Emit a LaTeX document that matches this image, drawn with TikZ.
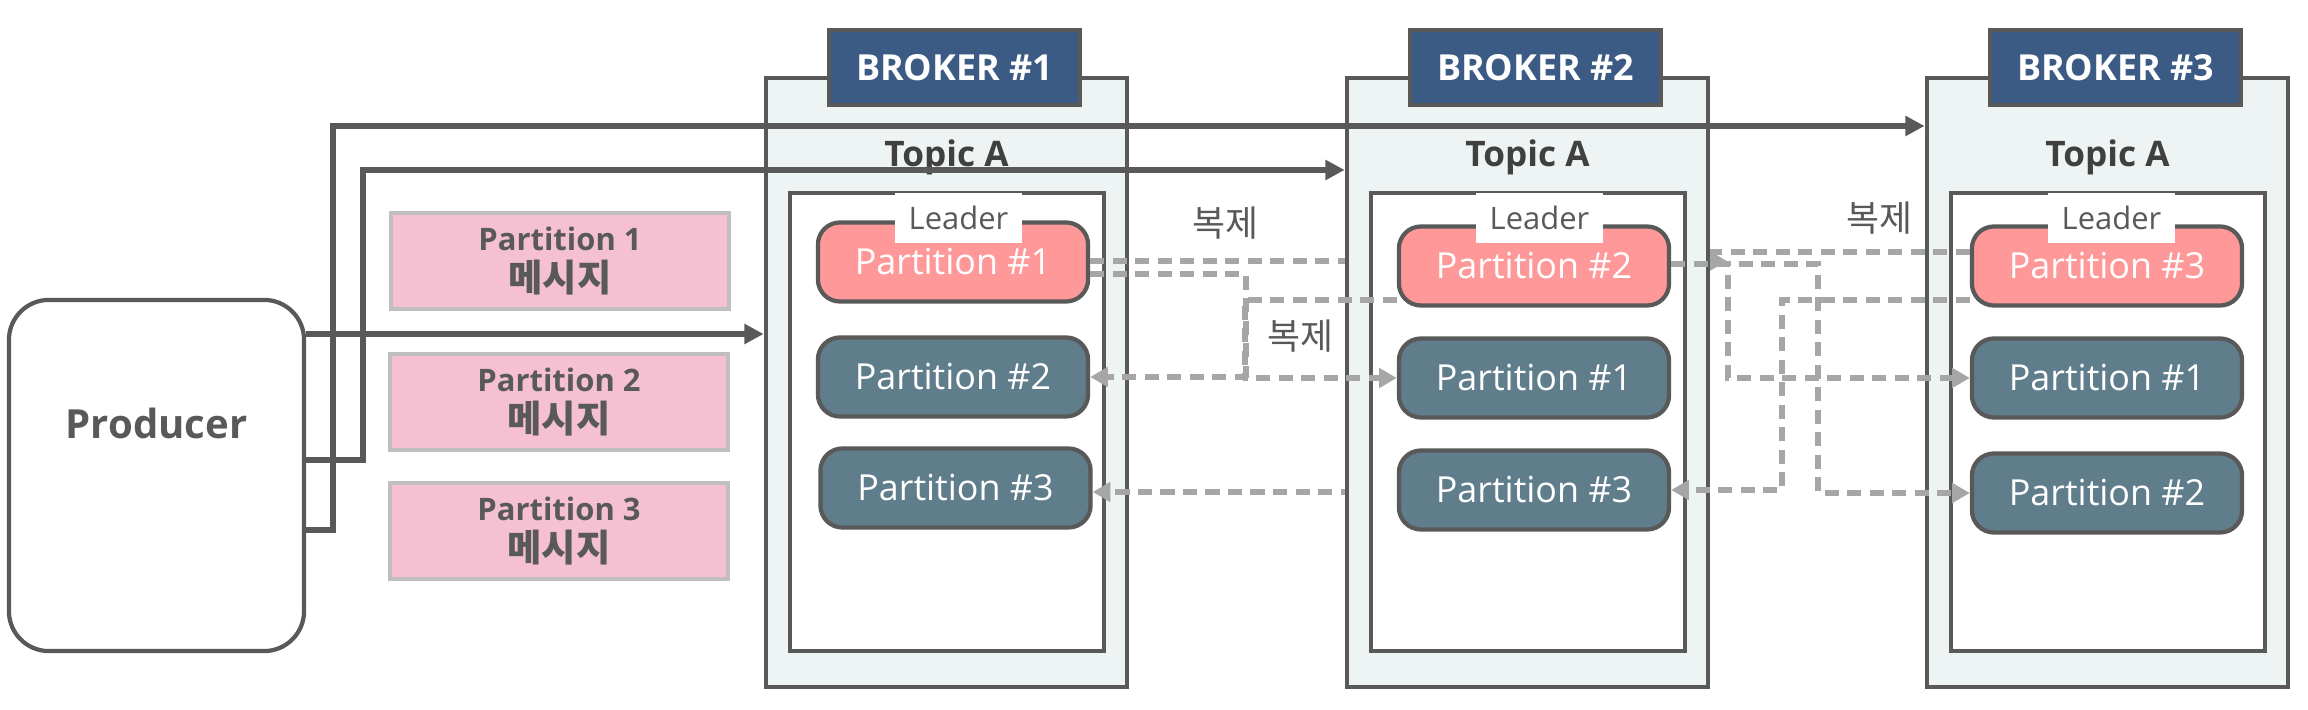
\documentclass[tikz,border=0pt]{standalone}
\usepackage{fontspec}
\setmainfont{Open Sans}
\newfontfamily\krfont{Noto Sans CJK KR}
\usetikzlibrary{arrows.meta}

\definecolor{linegray}{HTML}{595959}
\definecolor{dashgray}{HTML}{A6A6A6}
\definecolor{brokerblue}{HTML}{3B5B84}
\definecolor{framefill}{HTML}{EEF3F3}
\definecolor{leaderred}{HTML}{FF9999}
\definecolor{followerteal}{HTML}{5F7D8B}
\definecolor{msgpink}{HTML}{F5C0D1}
\definecolor{msgborder}{HTML}{BFBFBF}
\definecolor{topicgray}{HTML}{404040}

\tikzset{
  outerbox/.style={draw=linegray, line width=1.3pt, fill=framefill, minimum width=3.61cm, minimum height=6.09cm, inner sep=0pt},
  brokerlabel/.style={draw=linegray, line width=1.3pt, fill=brokerblue, text=white, font=\fontsize{10.2pt}{12pt}\selectfont\bfseries, minimum width=2.51cm, minimum height=0.75cm, inner sep=0pt},
  topictext/.style={text=topicgray, font=\fontsize{10pt}{12pt}\selectfont\bfseries, inner sep=0pt, anchor=base},
  innerbox/.style={draw=linegray, line width=1.1pt, fill=white, minimum width=3.14cm, minimum height=4.58cm, inner sep=0pt},
  part/.style={draw=linegray, line width=1.2pt, rounded corners=0.22cm, minimum width=2.7cm, minimum height=0.79cm, text=white, font=\fontsize{10.2pt}{12pt}\selectfont, inner sep=0pt},
  leaderpart/.style={part, fill=leaderred},
  followerpart/.style={part, fill=followerteal},
  leadertag/.style={fill=white, text=linegray, font=\fontsize{8.8pt}{10pt}\selectfont, minimum width=1.27cm, minimum height=0.5cm, inner sep=0pt},
  msgbox/.style={draw=msgborder, line width=1.2pt, fill=msgpink, text=linegray, align=center, minimum width=3.38cm, minimum height=0.96cm, inner sep=0pt, font=\fontsize{8.8pt}{11.6pt}\selectfont\bfseries},
  prodbox/.style={draw=linegray, line width=1.2pt, fill=white, rounded corners=0.4cm, minimum width=2.95cm, minimum height=3.51cm},
  prodtext/.style={text=linegray, font=\fontsize{11.4pt}{13pt}\selectfont\bfseries, inner sep=0pt, anchor=base},
  sendarrow/.style={draw=linegray, line width=1.5pt, -{Triangle[length=5.5pt,width=5.5pt]}},
  reparrow/.style={draw=dashgray, line width=1.7pt, dash pattern=on 4pt off 2.4pt, -{Triangle[length=5pt,width=5.4pt]}},
  reptext/.style={text=linegray, font=\krfont\fontsize{10.2pt}{12pt}\selectfont, inner sep=0pt},
}

% one broker frame: left edge, number
\newcommand\brokerbox[2]{%
  \node[outerbox] (broker#2) at (#1+180.5,382.5) {};
  \node[brokerlabel] (blabel#2) at (#1+188.5,67.5) {BROKER \##2};
  \node[topictext] (topic#2) at (#1+180.5,167) {Topic A};
  \node[innerbox] (inner#2) at (#1+181,422) {};
}
\newcommand\msgword{{\krfont\fontsize{10.6pt}{11.6pt}\selectfont\bfseries 메시지}}

\begin{document}
\begin{tikzpicture}[x=0.01cm, y=-0.01cm]
    \useasboundingbox (0,0) rectangle (2308,710);

    % broker 1
    \brokerbox{766}{1}
    \node[leaderpart] (b1p1) at (953,262) {Partition \#1};
    \node[followerpart] (b1p2) at (953,377) {Partition \#2};
    \node[followerpart] (b1p3) at (955.5,488) {Partition \#3};
    \node[leadertag] (lead1) at (958.5,218) {Leader};

    % broker 3
    \brokerbox{1927}{3}
    \node[leaderpart] (b3p3) at (2107,266) {Partition \#3};
    \node[followerpart] (b3p1) at (2107,378) {Partition \#1};
    \node[followerpart] (b3p2) at (2107,493) {Partition \#2};
    \node[leadertag] (lead3) at (2111.5,218) {Leader};

    % copies running behind broker 2
    \coordinate (hidtip) at (1727,261);
    \draw[reparrow] (b1p1.east |- 0,261) -- (hidtip);
    \draw[reparrow] (b3p3.west |- 0,252) -- (1520,252) |- (b1p3.east |- 0,492);

    % broker 2
    \brokerbox{1347}{2}
    \node[leaderpart] (b2p2) at (1534,266) {Partition \#2};
    \node[followerpart] (b2p1) at (1534,378) {Partition \#1};
    \node[followerpart] (b2p3) at (1534,490) {Partition \#3};
    \node[leadertag] (lead2) at (1539.5,218) {Leader};

    % producer
    \node[prodbox] (producer) at (156.5,475.5) {};
    \node[prodtext] (prodlabel) at (156.5,439) {Producer};

    % messages
    \node[msgbox] (msg1) at (560,261) {Partition 1\\\msgword};
    \node[msgbox] (msg2) at (559,402) {Partition 2\\\msgword};
    \node[msgbox] (msg3) at (559,531) {Partition 3\\\msgword};

    % producer -> brokers
    \draw[sendarrow] (producer.east |- 0,334) -- (broker1.west |- 0,334);
    \draw[sendarrow] (producer.east |- 0,460) -- (363,460) -- (363,170) -- (broker2.west |- 0,170);
    \draw[sendarrow] (producer.east |- 0,530) -- (333,530) -- (333,126) -- (broker3.west |- 0,126);

    % replication
    \draw[reparrow] (b1p1.east |- 0,274) -- (1246,274) |- (b2p1.west);
    \draw[reparrow] (b2p2.west |- 0,300) -- (1245,300) |- (b1p2.east);
    \draw[reparrow] (b2p2.east |- 0,264) -- (1728,264) |- (b3p1.west);
    \draw[reparrow] (b2p2.east |- 0,264) -- (1818,264) |- (b3p2.west);
    \draw[reparrow] (b3p3.west |- 0,300) -- (1782,300) |- (b2p3.east);

    % texts
    \node[reptext] (rep1) at (1225,223) {복제};
    \node[reptext] (rep2) at (1300,336) {복제};
    \node[reptext] (rep3) at (1879,218) {복제};

\end{tikzpicture}
\end{document}
